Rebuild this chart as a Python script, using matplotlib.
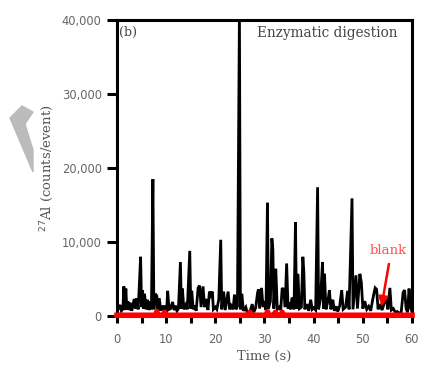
"""Enzymatic digestion: 27Al single-event signal vs. blank."""

import matplotlib
matplotlib.use('Agg')
import matplotlib.pyplot as plt
from matplotlib.patches import Polygon

# Sample signal (time in s, counts per event)
time = [0.0, 0.3, 0.6, 0.9, 1.2, 1.4, 1.6, 1.8, 2.0, 2.2, 2.4, 2.7, 3.0,
        3.2, 3.5, 3.8, 4.0, 4.3, 4.5, 4.8, 5.0, 5.2, 5.4, 5.6, 5.9, 6.2,
        6.5, 6.8, 7.0, 7.3, 7.5, 7.8, 8.1, 8.3, 8.6, 8.9, 9.2, 9.5, 9.8,
        10.1, 10.3, 10.6, 10.9, 11.3, 11.6, 11.9, 12.2, 12.5, 12.9, 13.1,
        13.3, 13.6, 14.0, 14.3, 14.8, 15.0, 15.2, 15.5, 15.8, 16.1, 16.5,
        16.8, 17.1, 17.5, 17.8, 18.2, 18.5, 18.8, 19.1, 19.4, 19.6, 20.0,
        20.3, 20.7, 21.1, 21.3, 21.7, 22.0, 22.6, 22.9, 23.2, 23.6, 23.9,
        24.2, 24.5, 24.9, 25.1, 25.4, 25.7, 26.0, 26.2, 26.5, 27.0, 27.5,
        27.8, 28.2, 28.6, 28.8, 29.0, 29.4, 29.7, 30.0, 30.3, 30.6, 30.8,
        31.2, 31.5, 31.7, 31.9, 32.3, 32.6, 33.0, 33.3, 33.6, 33.9, 34.2,
        34.5, 34.8, 35.0, 35.3, 35.6, 36.0, 36.3, 36.5, 36.8, 37.1, 37.5,
        37.8, 38.0, 38.2, 38.6, 39.0, 39.4, 39.7, 40.0, 40.4, 40.8, 41.0,
        41.4, 41.8, 42.0, 42.2, 42.5, 42.9, 43.2, 43.5, 43.9, 44.2, 44.6,
        44.9, 45.3, 45.7, 46.0, 46.5, 46.9, 47.2, 47.8, 48.0, 48.3, 48.6,
        48.9, 49.2, 49.4, 49.7, 50.0, 50.4, 50.8, 51.2, 51.6, 52.0, 52.5,
        52.8, 53.1, 53.5, 53.9, 54.4, 54.8, 55.1, 55.5, 55.8, 56.2, 56.6,
        57.0, 57.4, 57.8, 58.2, 58.5, 58.8, 59.1, 59.4, 59.7, 60.0]
counts = [2200, 900, 1500, 700, 1000, 4000, 800, 3700, 900, 2000, 800, 1800,
          700, 1300, 2300, 1000, 2400, 900, 3600, 8000, 1200, 3500, 1000,
          3000, 900, 2200, 800, 2000, 900, 18500, 900, 3000, 2700, 800, 2400,
          700, 1400, 900, 1400, 600, 3400, 900, 1000, 1900, 800, 1400, 700,
          1000, 7300, 1000, 3700, 900, 1500, 900, 8800, 1000, 3400, 900, 1400,
          700, 3800, 4100, 1200, 4000, 1200, 2300, 800, 3300, 2800, 3300, 900,
          1200, 900, 2200, 10300, 900, 3300, 800, 3300, 900, 1400, 900, 2900,
          900, 1300, 41000, 900, 3000, 700, 1000, 1200, 400, 500, 1600, 500,
          1100, 3200, 3600, 1000, 3800, 1200, 2000, 800, 15300, 1000, 2000,
          10500, 9000, 1000, 6400, 900, 1200, 800, 3800, 3500, 1200, 7100,
          1000, 1800, 900, 2500, 900, 12700, 1000, 5700, 1000, 1200, 8000,
          6000, 900, 1600, 700, 2200, 900, 1100, 800, 17400, 900, 2400, 7300,
          1000, 5700, 900, 2000, 3500, 900, 2200, 700, 1300, 600, 1400, 3500,
          900, 1200, 3400, 900, 15900, 900, 3200, 5500, 1000, 3800, 5700,
          4500, 1000, 2000, 900, 1300, 700, 2200, 3800, 3600, 900, 1600, 800,
          1800, 2600, 900, 3800, 800, 1000, 500, 600, 400, 500, 3200, 3500,
          1000, 500, 3700, 1100, 600]

# Blank signal
blank_time = [0.0, 7.9, 8.1, 8.3, 9.5, 9.7, 9.9, 26.8, 27.0, 27.2, 30.4,
              30.6, 30.8, 32.0, 32.2, 32.4, 33.4, 33.6, 33.8, 60.0]
blank_counts = [100, 100, 600, 100, 100, 500, 100, 100, 500, 100, 100,
                600, 100, 100, 500, 100, 100, 500, 100, 100]

x_ticks = [0, 10, 20, 30, 40, 50, 60]
y_ticks = [0, 10000, 20000, 30000, 40000]
y_tick_labels = ['0', '10,000', '20,000', '30,000', '40,000']

fig = plt.figure(figsize=(4.22, 3.65), dpi=100)
ax = fig.add_axes([117 / 422, 1 - 316 / 365, 295 / 422, 296 / 365])

ax.plot(time, counts, color='black', lw=2.0, zorder=2,
        solid_joinstyle='miter')
ax.plot(blank_time, blank_counts, color='red', lw=4.0, zorder=3,
        clip_on=False)

ax.set_xlim(0, 60)
ax.set_ylim(0, 40000)
ax.set_xticks(x_ticks)
ax.set_xticks(range(5, 60, 10), minor=True)
ax.set_yticks(y_ticks)
ax.set_yticklabels(y_tick_labels)

for side in ['left', 'right', 'top']:
    ax.spines[side].set_linewidth(2.2)
ax.spines['bottom'].set_visible(False)
ax.tick_params(which='both', direction='out', width=2.2, colors='black',
               labelcolor='#666666', labelsize=8.3)
ax.tick_params(axis='x', which='both', length=5, pad=7)
ax.tick_params(axis='y', length=7, pad=4)

serif = 'DejaVu Serif'
ax.set_xlabel('Time (s)', family=serif, fontsize=9.5, color='#555555',
              labelpad=3)
ax.set_ylabel('$^{27}$Al (counts/event)', family=serif, fontsize=9.5,
              color='#555555', labelpad=4)

ax.text(2.2, 38300, '(b)', family=serif, fontsize=9, color='#444444',
        ha='center', va='center')
ax.text(42.8, 38200, 'Enzymatic digestion', family=serif, fontsize=9.8,
        color='#444444', ha='center', va='center')
ax.text(55.2, 8800, 'blank', family=serif, fontsize=9.5, color='#ff5555',
        ha='center', va='center')
ax.annotate('', xy=(53.7, 900), xytext=(55.4, 7400),
            arrowprops=dict(arrowstyle='-|>', color='red', lw=1.8,
                            mutation_scale=14))

# grey decoration at the left edge
pts = [(10, 118), (22, 106), (33, 112), (25, 124), (33, 150), (33, 172)]
fig.patches.append(Polygon([(x / 422, 1 - y / 365) for x, y in pts],
                           closed=True, color='#bbbbbb',
                           transform=fig.transFigure, figure=fig))

fig.savefig('out.png', dpi=100)
